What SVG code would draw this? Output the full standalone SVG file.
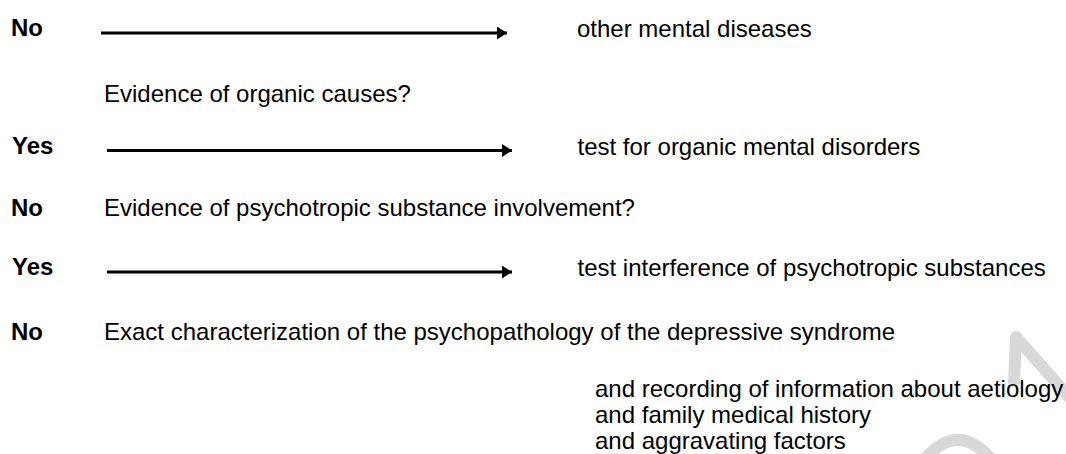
<svg xmlns="http://www.w3.org/2000/svg" width="1066" height="454" viewBox="0 0 1066 454">
<style>
text{font-family:"Liberation Sans",Arial,sans-serif;font-size:24px;fill:#000}
.b{font-weight:bold}
.arr{stroke:#000;stroke-width:3;fill:none}
.wm{stroke:#d8d8d8;stroke-width:12;fill:none;stroke-linejoin:round}
</style>
<defs>
<marker id="ah" markerUnits="userSpaceOnUse" markerWidth="12" markerHeight="14" refX="10" refY="6.5" orient="auto">
<polygon points="0,0 10,6.5 0,13" fill="#000"/>
</marker>
</defs>
<rect width="1066" height="454" fill="#fff"/>
<g id="watermark">
<path class="wm" d="M1014,384 L1016,337 L1070,398"/>
<path class="wm" d="M924,460 Q958,420 992,460"/>
</g>
<g id="connectors">
<line class="arr" x1="101" y1="33" x2="507" y2="33" marker-end="url(#ah)"/>
<line class="arr" x1="107" y1="150.5" x2="512" y2="150.5" marker-end="url(#ah)"/>
<line class="arr" x1="107" y1="272" x2="512" y2="272" marker-end="url(#ah)"/>
</g>
<g id="row1">
<text class="b" x="11" y="36">No</text>
<text x="577" y="37">other mental diseases</text>
</g>
<g id="q1">
<text x="104" y="101.5">Evidence of organic causes?</text>
</g>
<g id="row2">
<text class="b" x="12" y="154">Yes</text>
<text x="577.5" y="154.5">test for organic mental disorders</text>
</g>
<g id="q2">
<text class="b" x="11" y="216">No</text>
<text x="104" y="216">Evidence of psychotropic substance involvement?</text>
</g>
<g id="row3">
<text class="b" x="12" y="275">Yes</text>
<text x="577.5" y="276">test interference of psychotropic substances</text>
</g>
<g id="q3">
<text class="b" x="11" y="340">No</text>
<text x="104" y="340">Exact characterization of the psychopathology of the depressive syndrome</text>
</g>
<g id="details">
<text x="595" y="397">and recording of information about aetiology</text>
<text x="595" y="423">and family medical history</text>
<text x="595" y="449">and aggravating factors</text>
</g>
</svg>
